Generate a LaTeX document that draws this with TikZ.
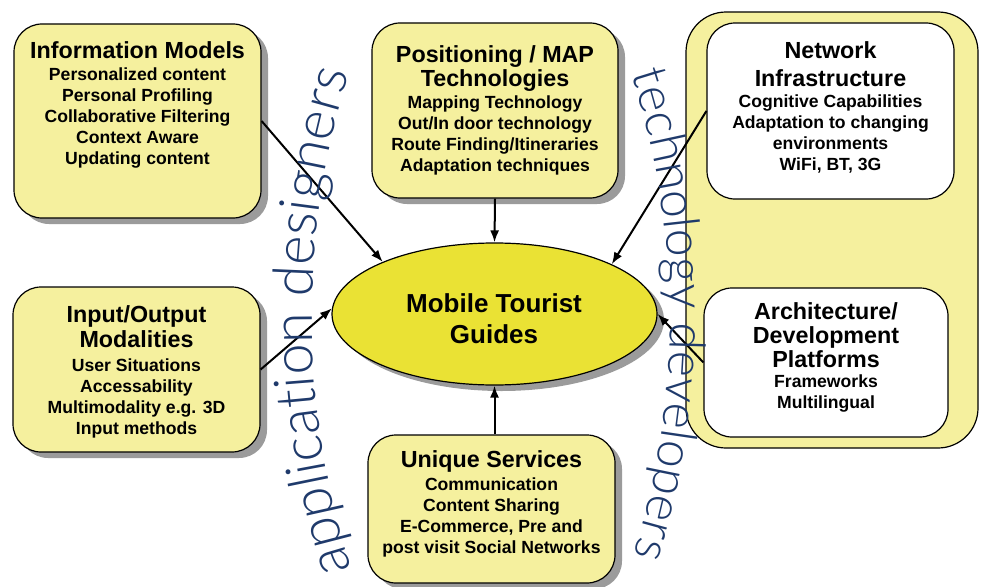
\documentclass[tikz,border=0pt]{standalone}
\usepackage{fontspec}
\setmainfont{Liberation Sans}
% light face for the two curved captions
\IfFontExistsTF{Lato Light}{\newfontfamily\thinfont{Lato Light}}{%
  \IfFontExistsTF{Open Sans Light}{\newfontfamily\thinfont{Open Sans Light}}{%
    \newfontfamily\thinfont{Liberation Sans}}}
\usetikzlibrary{shapes.geometric, arrows.meta, shadows, decorations.text, calc}

\definecolor{boxfill}{RGB}{245,240,158}
\definecolor{ovalfill}{RGB}{234,226,52}
\definecolor{shade}{RGB}{155,155,155}
\definecolor{navy}{RGB}{31,58,107}

\tikzset{
  panel/.style={rectangle, draw=black, line width=1.2pt, fill=boxfill,
    rounded corners=28pt, inner sep=0pt,
    drop shadow={shadow xshift=7pt, shadow yshift=-6pt, fill=shade, opacity=1}},
  whitepanel/.style={rectangle, draw=black, line width=1.2pt, fill=white,
    rounded corners=28pt, inner sep=0pt},
  grouppanel/.style={rectangle, draw=black, line width=1.2pt, fill=boxfill,
    rounded corners=40pt, inner sep=0pt},
  hub/.style={ellipse, draw=black, line width=1.2pt, fill=ovalfill, inner sep=0pt,
    drop shadow={shadow xshift=7pt, shadow yshift=-6pt, fill=shade, opacity=1}},
  heading/.style={anchor=north, inner sep=0pt, align=center,
    font=\bfseries\fontsize{23.3}{24}\selectfont},
  items/.style={anchor=north, inner sep=0pt, align=center,
    font=\bfseries\fontsize{17.6}{21}\selectfont},
  link/.style={line width=2pt, -{Latex[length=12pt,width=9pt]}},
  curved/.style 2 args={decorate, decoration={text along path, text align=center,
    text color=navy, text={|\thinfont\fontsize{#1}{#1}\selectfont|#2}}}
}

\begin{document}
\begin{tikzpicture}[x=1pt, y=-1pt]
\useasboundingbox (0,0) rectangle (981,586);

% group frame on the right
\node[grouppanel, minimum width=292pt, minimum height=436pt] (group) at (832,230) {};

% panels
\node[panel, minimum width=247pt, minimum height=194pt] (info) at (137.5,121) {};
\node[panel, minimum width=246pt, minimum height=175pt] (pos) at (495,110.5) {};
\node[panel, minimum width=247pt, minimum height=165pt] (io) at (136.5,369.5) {};
\node[panel, minimum width=247pt, minimum height=148pt] (us) at (491.5,509) {};
\node[whitepanel, minimum width=247pt, minimum height=176pt] (net) at (830.5,111) {};
\node[whitepanel, minimum width=244pt, minimum height=149pt] (arch) at (826,362.5) {};

% central oval
\node[hub, minimum width=325pt, minimum height=142pt] (mtg) at (494.5,314) {};

% connectors
\draw[link] (info.east) -- (mtg.155.6);
\draw[link] (pos.south) -- (mtg.north);
\draw[link] (net.west) -- (mtg.23.8);
\draw[link] (io.east) -- (mtg.178.5);
\draw[link] (arch.west) -- (mtg.east);
\draw[link] (mtg.south |- us.north) -- (mtg.south);

% panel texts
\node[heading] (infoT) at (137.5,41) {Information Models};
\node[items] (infoB) at (137.5,68) {Personalized content\\Personal Profiling\\Collaborative Filtering\\Context Aware\\Updating content};

\node[heading] (posT) at (495,45) {Positioning / MAP\\Technologies};
\node[items] (posB) at (495,96) {Mapping Technology\\Out/In door technology\\Route Finding/Itineraries\\Adaptation techniques};

\node[heading, font=\bfseries\fontsize{23.3}{28}\selectfont] (netT) at (830.5,41) {Network\\Infrastructure};
\node[items] (netB) at (830.5,95) {Cognitive Capabilities\\Adaptation to changing\\environments\\WiFi, BT, 3G};

\node[heading, font=\bfseries\fontsize{23.3}{25.5}\selectfont] (ioT) at (136.5,305) {Input/Output\\Modalities};
\node[items] (ioB) at (136.5,359) {User Situations\\Accessability\\Multimodality e.g. 3D\\Input methods};

\node[heading] (usT) at (491.5,450) {Unique Services};
\node[items] (usB) at (491.5,478) {Communication\\Content Sharing\\E-Commerce, Pre and\\post visit Social Networks};

\node[heading] (archT) at (826,302) {Architecture/\\Development\\Platforms};
\node[items] (archB) at (826,375) {Frameworks\\Multilingual};

\node[anchor=north, inner sep=0pt, align=center, font=\bfseries\fontsize{26}{31.5}\selectfont] (mtgT) at (494,293) {Mobile Tourist\\Guides};

% curved captions
\path[curved={56}{application designers}]
  plot[domain=160:199.5, samples=80] ({1130+818*cos(\x)},{318+818*sin(\x)});
\path[curved={50}{technology developers}]
  plot[domain=-19.8:19.3, samples=80] ({-123+793*cos(\x)},{318+793*sin(\x)});
\end{tikzpicture}
\end{document}
